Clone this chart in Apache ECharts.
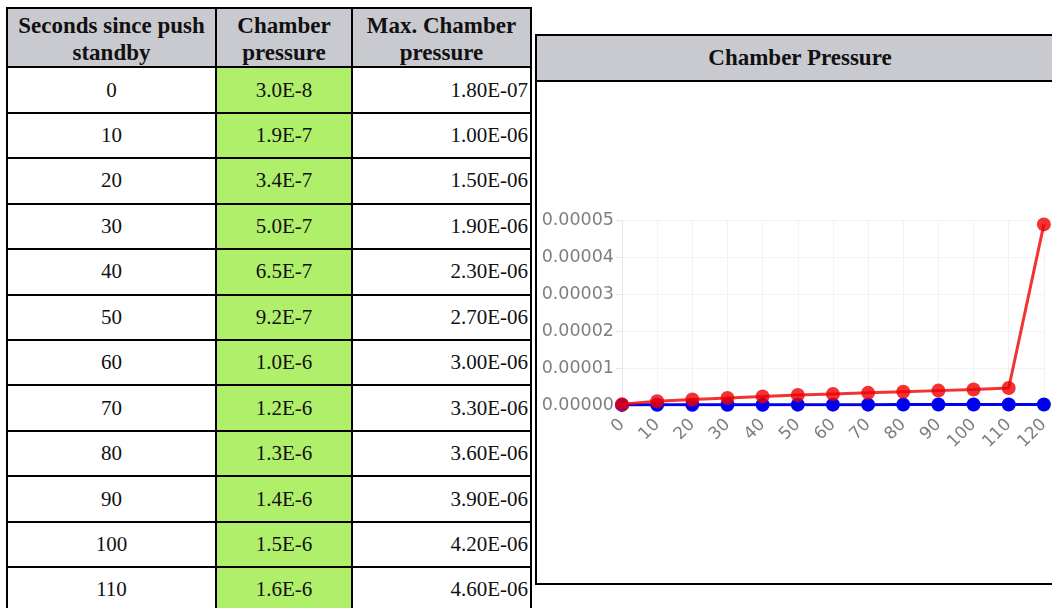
<!DOCTYPE html>
<html>
<head>
<meta charset="utf-8">
<script src="https://cdn.jsdelivr.net/npm/echarts@6/dist/echarts.min.js"></script>
<style>
html,body{margin:0;padding:0;width:1052px;height:608px;overflow:hidden;background:#fff;}
.cell{position:absolute;box-sizing:border-box;border:2px solid #000;font-family:"Liberation Serif","Times New Roman",serif;color:#111;display:flex;align-items:center;justify-content:center;font-size:21px;overflow:hidden;white-space:nowrap;}
.head{background:#c9cacf;font-weight:bold;text-align:center;line-height:27px;font-size:23px;white-space:normal;padding-top:2px;}
.green{background:#b0ef6a;}
.right{justify-content:flex-end;padding-right:2px;}
#panel{position:absolute;left:535px;top:34px;width:530px;height:551px;box-sizing:border-box;border:2px solid #000;background:#fff;}
#panelHead{position:absolute;left:0;top:0;right:0;height:46px;box-sizing:border-box;border-bottom:2px solid #000;background:#c9cacf;font-family:"Liberation Serif","Times New Roman",serif;font-weight:bold;font-size:23px;color:#111;display:flex;align-items:center;justify-content:center;}
#chart{position:absolute;left:537px;top:80px;width:515px;height:503px;}
</style>
</head>
<body>
<div id="table"></div>
<div id="panel"><div id="panelHead">Chamber Pressure</div></div>
<div id="chart"></div>
<script>
// ---- data ----
var headers = ["Seconds since push standby", "Chamber pressure", "Max. Chamber pressure"];
var seconds = ["0","10","20","30","40","50","60","70","80","90","100","110","120"];
// table columns
var chamberPressure = [3.0e-8, 1.9e-7, 3.4e-7, 5.0e-7, 6.5e-7, 9.2e-7, 1.0e-6, 1.2e-6, 1.3e-6, 1.4e-6, 1.5e-6, 1.6e-6, 1.7e-6];
var maxChamberPressure = [1.8e-7, 1.0e-6, 1.5e-6, 1.9e-6, 2.3e-6, 2.7e-6, 3.0e-6, 3.3e-6, 3.6e-6, 3.9e-6, 4.2e-6, 4.6e-6, 4.9e-5];
// blue series (sits on the zero line)
var blueSeries = [3e-8, 5e-8, 6e-8, 7e-8, 8e-8, 9e-8, 1.0e-7, 1.0e-7, 1.1e-7, 1.2e-7, 1.2e-7, 1.3e-7, 1.4e-7];
var yTicks = [0, 0.00001, 0.00002, 0.00003, 0.00004, 0.00005];

// ---- table ----
function fmtShort(v){ return v.toExponential(1).toUpperCase(); }
function fmtLong(v){
  var s = v.toExponential(2).toUpperCase();
  return s.replace(/E([+-])(\d)$/, function(m, sg, d){ return 'E' + sg + '0' + d; });
}
var colX = [6, 215, 351, 530];
var colW = [colX[1]-colX[0]+2, colX[2]-colX[1]+2, colX[3]-colX[2]+2];
var headTop = 7, headBottom = 66.3, rowH = 45.45;
var tbl = document.getElementById('table');
function addCell(x, y, w, h, txt, cls){
  var d = document.createElement('div');
  d.className = 'cell ' + cls;
  d.style.left = x + 'px'; d.style.top = y + 'px';
  d.style.width = w + 'px'; d.style.height = h + 'px';
  d.textContent = txt;
  tbl.appendChild(d);
}
for (var c = 0; c < 3; c++) {
  addCell(colX[c], headTop, colW[c], headBottom - headTop + 2, headers[c], 'head');
}
for (var r = 0; r < seconds.length; r++) {
  var y = headBottom + r * rowH;
  addCell(colX[0], y, colW[0], rowH + 2, seconds[r], '');
  addCell(colX[1], y, colW[1], rowH + 2, fmtShort(chamberPressure[r]), 'green');
  addCell(colX[2], y, colW[2], rowH + 2, fmtLong(maxChamberPressure[r]), 'right');
}

// ---- chart ----
var chart = echarts.init(document.getElementById('chart'), null, {renderer:'canvas'});
chart.setOption({
  animation: false,
  grid: {left: 85, right: 1.6, top: 140.7, height: 184.3, containLabel: false},
  xAxis: {
    type: 'category',
    data: seconds,
    boundaryGap: false,
    axisLine: {show: true, lineStyle: {color: '#e6e6e6'}},
    axisTick: {show: true, alignWithLabel: true, length: 6, lineStyle: {color: '#ececec'}},
    axisLabel: {interval: 0, rotate: 45, margin: 17, color: '#7e7e7e', fontFamily: 'DejaVu Sans', fontSize: 17},
    splitLine: {show: true, lineStyle: {color: '#f3f3f3', width: 1}}
  },
  yAxis: {
    type: 'value',
    min: yTicks[0],
    max: yTicks[yTicks.length - 1],
    interval: yTicks[1] - yTicks[0],
    axisLine: {show: true, lineStyle: {color: '#e6e6e6'}},
    axisTick: {show: true, length: 6, lineStyle: {color: '#e6e6e6'}},
    axisLabel: {margin: 8, color: '#7e7e7e', fontFamily: 'DejaVu Sans', fontSize: 17.5,
      formatter: function(v){ return v.toFixed(5); }},
    splitLine: {show: true, lineStyle: {color: '#f3f3f3', width: 1}}
  },
  series: [
    {
      name: 'Chamber pressure',
      type: 'line',
      data: blueSeries,
      symbol: 'circle',
      symbolSize: 14,
      lineStyle: {color: '#0000f0', width: 3},
      itemStyle: {color: '#0000f0'},
      z: 2
    },
    {
      name: 'Max. Chamber pressure',
      type: 'line',
      data: maxChamberPressure,
      symbol: 'circle',
      symbolSize: 14,
      lineStyle: {color: 'rgba(240,0,0,0.8)', width: 3},
      itemStyle: {color: 'rgba(240,0,0,0.8)'},
      z: 3
    }
  ]
});
</script>
</body>
</html>
